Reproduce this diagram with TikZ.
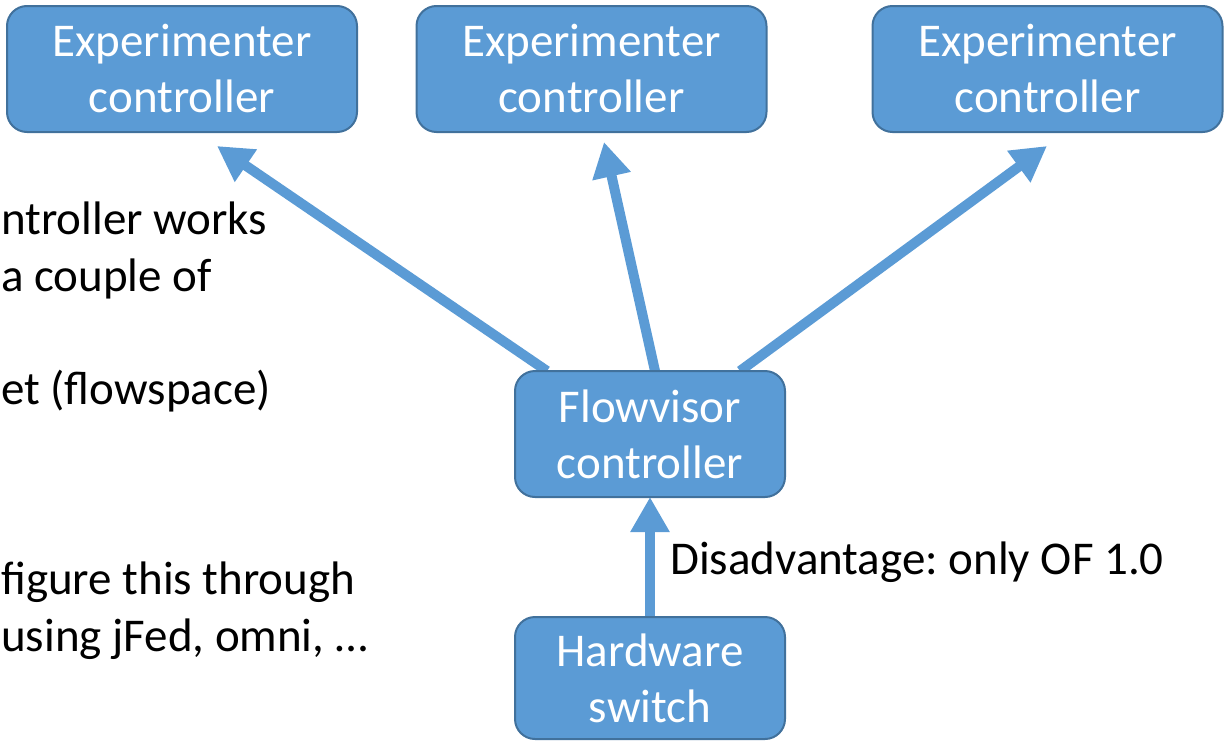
\documentclass[tikz,border=0pt]{standalone}
\usepackage{fontspec}
\setmainfont{Carlito}
\frenchspacing
\usetikzlibrary{arrows.meta,backgrounds}
\definecolor{boxfill}{HTML}{5B9BD5}
\definecolor{boxline}{HTML}{41719C}
\begin{document}
\begin{tikzpicture}[x=1pt,y=-1pt,
  box/.style={draw=boxline, line width=2pt, fill=boxfill, rounded corners=20pt,
    text=white, align=center, inner sep=0pt,
    font=\fontsize{47}{56}\selectfont},
  conn/.style={draw=boxfill, line width=10pt,
    -{Triangle[length=35pt,width=37pt]}},
  body/.style={inner sep=0pt, font=\fontsize{47}{56}\selectfont, text=black}]
\useasboundingbox (0,0) rectangle (1224,742);

\node[box, minimum width=350pt, minimum height=126pt] (e1) at (182,69) {Experimenter\\controller};
\node[box, minimum width=350pt, minimum height=126pt] (e2) at (591.5,69) {Experimenter\\controller};
\node[box, minimum width=350pt, minimum height=126pt] (e3) at (1047.5,69) {Experimenter\\controller};
\node[box, minimum width=270pt, minimum height=126pt] (fv) at (650,434) {Flowvisor\\controller};
\node[box, minimum width=270pt, minimum height=122pt] (hw) at (650,678) {Hardware\\switch};

\coordinate (s1) at (547,371);
\coordinate (s2) at (655,371);
\coordinate (s3) at (740,371);
\coordinate (t1) at (217,146);
\coordinate (t2) at (604,142);
\coordinate (t3) at (1047,146);

\begin{scope}[on background layer]
\draw[conn] (s1) -- (t1);
\draw[conn] (s2) -- (t2);
\draw[conn] (s3) -- (t3);
\draw[conn] (hw.north) -- ([yshift=1pt]fv.south);
\end{scope}

\node[body, anchor=base west] (dis) at (670,574) {Disadvantage: only OF 1.0};

\node[body, anchor=base west] (l1) at (1,234) {ntroller works};
\node[body, anchor=base west] (l2) at (1,291) {a couple of};
\node[body, anchor=base west] (l3) at (1,404) {et (flowspace)};
\node[body, anchor=base west] (l4) at (1,594) {figure this through};
\node[body, anchor=base west] (l5) at (1,651) {using jFed, omni, …};
\end{tikzpicture}
\end{document}
